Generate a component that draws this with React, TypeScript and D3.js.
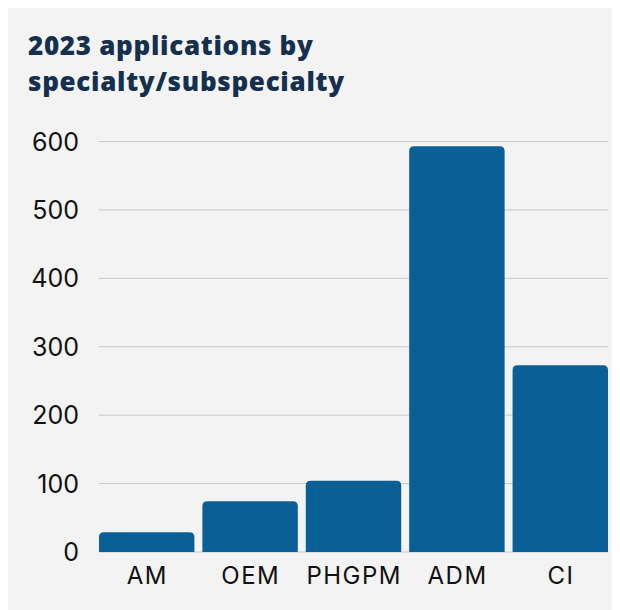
import React, { useEffect, useRef } from "react";
import * as d3 from "d3";

// Chart data
const categories = ["AM", "OEM", "PHGPM", "ADM", "CI"];
const applications = [29, 74, 104, 593, 273];
const yTicks = [0, 100, 200, 300, 400, 500, 600];
const titleLines = ["2023 applications by", "specialty/subspecialty"];

const WIDTH = 612;
const HEIGHT = 602;

const App: React.FC = () => {
  const svgRef = useRef<SVGSVGElement | null>(null);

  useEffect(() => {
    const svg = d3.select(svgRef.current);
    svg.selectAll("*").remove();

    // plot area in svg coords
    const plot = { left: 91, right: 600, top: 133.5, bottom: 544 };
    const gap = 8;

    svg
      .append("rect")
      .attr("width", WIDTH)
      .attr("height", HEIGHT)
      .attr("fill", "#f3f3f3");

    // Title
    svg
      .append("g")
      .selectAll("text")
      .data(titleLines)
      .enter()
      .append("text")
      .attr("x", 20)
      .attr("y", (d, i) => 47 + i * 36)
      .attr("fill", "#15304f")
      .style("font-family", "'Open Sans', sans-serif")
      .style("font-weight", 800)
      .style("font-size", "26px")
      .style("letter-spacing", "0.7px")
      .text((d) => d);

    const x = d3
      .scaleBand()
      .domain(categories)
      .range([plot.left - gap / 2, plot.right + gap / 2])
      .paddingInner(0.077)
      .paddingOuter(0.0385);

    const y = d3.scaleLinear().domain([0, 600]).range([plot.bottom, plot.top]);

    // gridlines
    svg
      .append("g")
      .selectAll("line")
      .data(yTicks)
      .enter()
      .append("line")
      .attr("x1", plot.left)
      .attr("x2", plot.right)
      .attr("y1", (d) => y(d))
      .attr("y2", (d) => y(d))
      .attr("stroke", "#c8c8c8")
      .attr("stroke-width", 1);

    // y tick labels
    svg
      .append("g")
      .selectAll("text")
      .data(yTicks)
      .enter()
      .append("text")
      .attr("x", 71)
      .attr("y", (d) => y(d))
      .attr("dy", "0.36em")
      .attr("text-anchor", "end")
      .attr("fill", "#111")
      .style("font-family", "Inter, sans-serif")
      .style("font-size", "25px")
      .text((d) => d);

    // bars with rounded top corners
    const r = 5;
    svg
      .append("g")
      .selectAll("path")
      .data(categories)
      .enter()
      .append("path")
      .attr("fill", "#0a6096")
      .attr("d", (d, i) => {
        const x0 = x(d) as number;
        const w = x.bandwidth();
        const y0 = y(applications[i]);
        const y1 = y(0);
        return `M${x0},${y1}V${y0 + r}Q${x0},${y0} ${x0 + r},${y0}H${x0 + w - r}Q${x0 + w},${y0} ${x0 + w},${y0 + r}V${y1}Z`;
      });

    // x labels
    svg
      .append("g")
      .selectAll("text")
      .data(categories)
      .enter()
      .append("text")
      .attr("x", (d) => (x(d) as number) + x.bandwidth() / 2 + 0.7)
      .attr("y", 576)
      .attr("text-anchor", "middle")
      .attr("fill", "#111")
      .style("font-family", "Inter, sans-serif")
      .style("font-size", "24px")
      .style("letter-spacing", "1.5px")
      .text((d) => d);
  }, []);

  return <svg ref={svgRef} width={WIDTH} height={HEIGHT} style={{ display: "block" }} />;
};

export default App;
